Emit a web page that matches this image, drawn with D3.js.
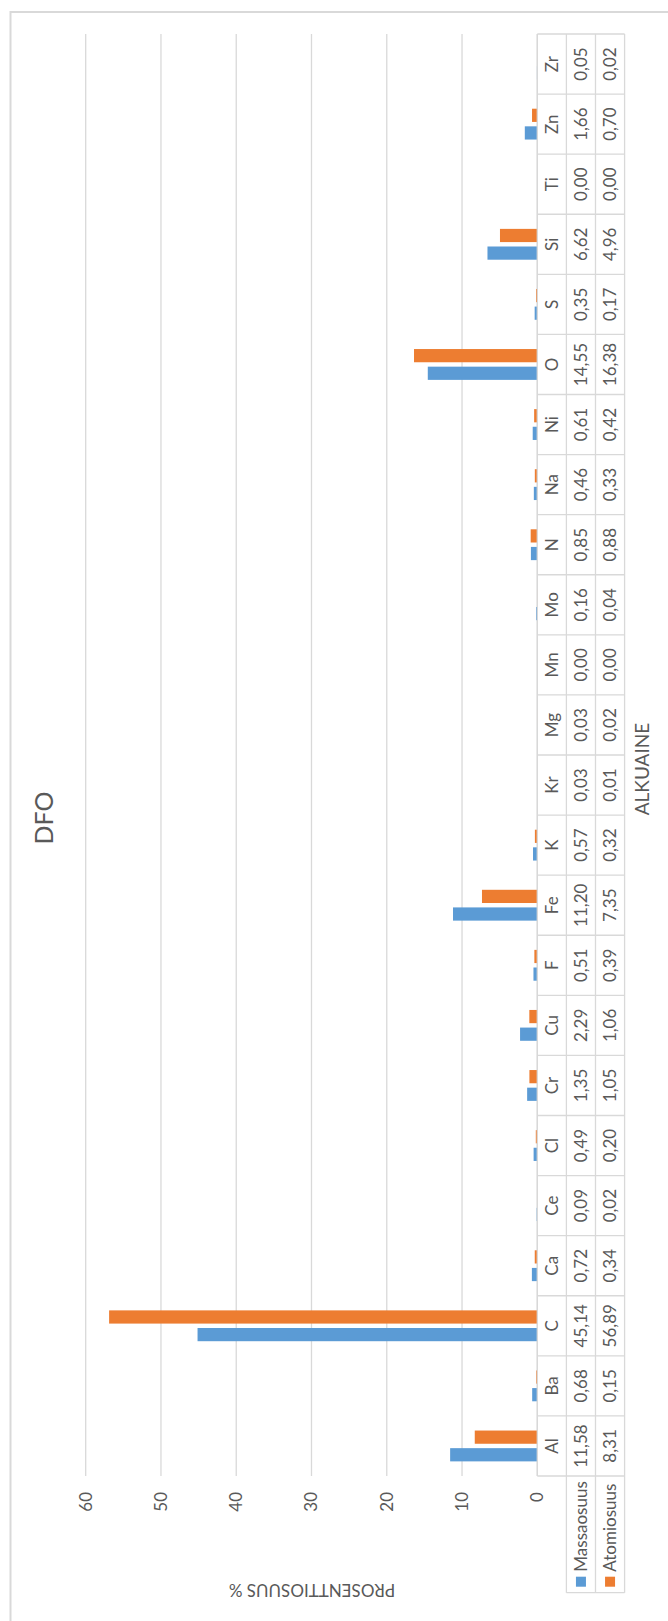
<!DOCTYPE html>
<html>
<head>
<meta charset="utf-8">
<script src="https://cdn.jsdelivr.net/npm/d3@7"></script>
<style>
	body { margin: 0; background: #fff; }
	text { font-family: Lato, "Open Sans", sans-serif; fill: #595959; }
</style>
</head>
<body>
<svg id="chart" width="668" height="1621"></svg>
<script>
{
	// element names, left to right in the unrotated chart
	var elements = ["Al", "Ba", "C", "Ca", "Ce", "Cl", "Cr", "Cu", "F", "Fe", "K", "Kr",
		"Mg", "Mn", "Mo", "N", "Na", "Ni", "O", "S", "Si", "Ti", "Zn", "Zr"]

	var massaosuus = [11.58, 0.68, 45.14, 0.72, 0.09, 0.49, 1.35, 2.29, 0.51, 11.20, 0.57, 0.03,
		0.03, 0.00, 0.16, 0.85, 0.46, 0.61, 14.55, 0.35, 6.62, 0.00, 1.66, 0.05]
	var atomiosuus = [8.31, 0.15, 56.89, 0.34, 0.02, 0.20, 1.05, 1.06, 0.39, 7.35, 0.32, 0.01,
		0.02, 0.00, 0.04, 0.88, 0.33, 0.42, 16.38, 0.17, 4.96, 0.00, 0.70, 0.02]

	var seriesNames = ["Massaosuus", "Atomiosuus"]
	var seriesColors = ["#5b9bd5", "#ed7d31"]
	var yTicks = [0, 10, 20, 30, 40, 50, 60]

	var chartTitle = "DFO"
	var xTitle = "ALKUAINE"
	var yTitle = "PROSENTTIOSUUS %"

	function fmt(v) {
		return v.toFixed(2).replace(".", ",")
	}

	var svg = d3.select("#chart")
	var svgWidth = +svg.attr("width")
	var svgHeight = +svg.attr("height")

	// chart frame (cut off at the right and bottom edges)
	svg.append("rect")
		.attr("x", 10.5)
		.attr("y", 12)
		.attr("width", 800)
		.attr("height", 1800)
		.attr("fill", "none")
		.attr("stroke", "#d9d9d9")
		.attr("stroke-width", 2)

	// the whole Excel chart is turned a quarter left, so draw it flat and rotate
	var g = svg.append("g")
		.attr("transform", "translate(0," + svgHeight + ") rotate(-90)")

	var plot = {l: 145, r: 1587, t: 85.7, b: 537.3}
	var rowH = 29.1
	var legendL = 28.3

	var x = d3.scaleBand()
		.domain(elements)
		.range([plot.l, plot.r])

	var xSeries = d3.scaleBand()
		.domain(seriesNames)
		.range([0, x.bandwidth()])
		.paddingInner(0.25)
		.paddingOuter(0.83)

	var y = d3.scaleLinear()
		.domain([0, 60])
		.range([plot.b, plot.t])

	// gridlines
	g.append("g")
		.selectAll("line")
		.data(yTicks)
		.join("line")
		.attr("x1", plot.l)
		.attr("x2", plot.r)
		.attr("y1", function(d) { return y(d) })
		.attr("y2", function(d) { return y(d) })
		.attr("stroke", "#d9d9d9")
		.attr("stroke-width", 1.3)

	// tick labels
	g.append("g")
		.attr("font-size", 17)
		.selectAll("text")
		.data(yTicks)
		.join("text")
		.attr("x", plot.l - 16)
		.attr("y", function(d) { return y(d) })
		.attr("dy", "0.35em")
		.attr("text-anchor", "end")
		.text(function(d) { return d })

	// bars
	var seriesData = [massaosuus, atomiosuus]
	seriesNames.forEach(function(name, si) {
		g.append("g")
			.attr("fill", seriesColors[si])
			.selectAll("rect")
			.data(elements)
			.join("rect")
			.attr("x", function(d) { return x(d) + xSeries(name) })
			.attr("width", xSeries.bandwidth())
			.attr("y", function(d, i) { return y(seriesData[si][i]) })
			.attr("height", function(d, i) { return y(0) - y(seriesData[si][i]) })
	})

	// data table
	var table = g.append("g")
		.attr("stroke", "#d9d9d9")
		.attr("stroke-width", 1.3)

	var rowY = [plot.b, plot.b + rowH, plot.b + 2 * rowH, plot.b + 3 * rowH]

	// horizontal lines of the table
	table.append("line")
		.attr("x1", plot.l).attr("x2", plot.r)
		.attr("y1", rowY[0]).attr("y2", rowY[0])
	rowY.slice(1).forEach(function(ry) {
		table.append("line")
			.attr("x1", legendL).attr("x2", plot.r)
			.attr("y1", ry).attr("y2", ry)
	})

	// vertical lines of the table
	var colEdges = elements.map(function(d) { return x(d) }).concat([plot.r])
	table.selectAll("line.col")
		.data(colEdges)
		.join("line")
		.attr("class", "col")
		.attr("x1", function(d) { return d })
		.attr("x2", function(d) { return d })
		.attr("y1", rowY[0])
		.attr("y2", rowY[3])
	table.append("line")
		.attr("x1", legendL).attr("x2", legendL)
		.attr("y1", rowY[1]).attr("y2", rowY[3])

	// table texts
	var tableText = g.append("g")
		.attr("font-size", 17)
		.attr("text-anchor", "middle")

	tableText.selectAll("text.cat")
		.data(elements)
		.join("text")
		.attr("class", "cat")
		.attr("x", function(d) { return x(d) + x.bandwidth() / 2 })
		.attr("y", (rowY[0] + rowY[1]) / 2)
		.attr("dy", "0.36em")
		.text(function(d) { return d })

	seriesNames.forEach(function(name, si) {
		tableText.append("g")
			.selectAll("text")
			.data(seriesData[si])
			.join("text")
			.attr("x", function(d, i) { return x(elements[i]) + x.bandwidth() / 2 })
			.attr("y", (rowY[si + 1] + rowY[si + 2]) / 2)
			.attr("dy", "0.36em")
			.text(function(d) { return fmt(d) })

		// legend key inside the table
		g.append("rect")
			.attr("x", legendL + 6)
			.attr("y", (rowY[si + 1] + rowY[si + 2]) / 2 - 5)
			.attr("width", 10)
			.attr("height", 10)
			.attr("fill", seriesColors[si])

		g.append("text")
			.attr("x", legendL + 21)
			.attr("y", (rowY[si + 1] + rowY[si + 2]) / 2)
			.attr("dy", "0.36em")
			.attr("font-size", 17)
			.text(name)
	})

	// titles
	g.append("text")
		.attr("x", 803)
		.attr("y", 53)
		.attr("text-anchor", "middle")
		.attr("font-size", 25)
		.text(chartTitle)

	g.append("text")
		.attr("x", 852)
		.attr("y", 649)
		.attr("text-anchor", "middle")
		.attr("font-size", 19)
		.text(xTitle)

	g.append("text")
		.attr("transform", "translate(37," + 312 + ") rotate(-90)")
		.attr("text-anchor", "middle")
		.attr("font-size", 17)
		.text(yTitle)
}
</script>
</body>
</html>
